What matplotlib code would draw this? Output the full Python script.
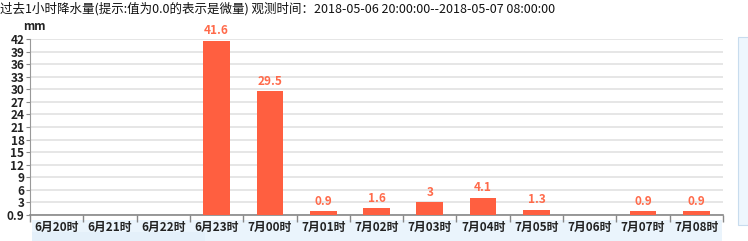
import matplotlib
matplotlib.use('Agg')
import matplotlib.pyplot as plt
import matplotlib.patches as patches
import numpy as np

plt.rcParams['font.family'] = ['Noto Sans CJK SC', 'DejaVu Sans']

hours = ['6月20时', '6月21时', '6月22时', '6月23时', '7月00时', '7月01时', '7月02时',
         '7月03时', '7月04时', '7月05时', '7月06时', '7月07时', '7月08时']
rain = [np.nan, np.nan, np.nan, 41.6, 29.5, 0.9, 1.6, 3, 4.1, 1.3, np.nan, 0.9, 0.9]
yticks = [0, 3, 6, 9, 12, 15, 18, 21, 24, 27, 30, 33, 36, 39, 42]
ylabels = ['0.9'] + [str(v) for v in yticks[1:]]
title = '过去1小时降水量(提示:值为0.0的表示是微量) 观测时间：2018-05-06 20:00:00--2018-05-07 08:00:00'

bar_color = '#ff5f40'
label_color = '#ff6a4a'

fig = plt.figure(figsize=(7.48, 2.41), dpi=100)
ax = fig.add_axes([30/748, 1-215/241, 693/748, 176/241])

x = np.arange(len(hours))
ax.bar(x, rain, width=0.5, color=bar_color, zorder=3)
for xi, v in zip(x, rain):
    if np.isnan(v):
        continue
    txt = '%g' % v
    ax.text(xi, v + 0.8, txt, ha='center', va='bottom', fontsize=8.5,
            color=label_color, fontweight='bold', zorder=4)

ax.set_xlim(-0.5, len(hours) - 0.5)
ax.set_ylim(0, 42)
ax.set_yticks(yticks)
ax.set_yticklabels(ylabels, fontsize=8.5, fontweight='bold', color='#222222')
ax.yaxis.grid(True, color='#e2e2e2', linewidth=1.2, zorder=0)
ax.set_xticks(x)
ax.set_xticklabels(hours, fontsize=8.5, fontweight='bold', color='#222222')
ax.tick_params(axis='x', length=0, pad=4)
ax.set_xticks(np.arange(len(hours) + 1) - 0.5, minor=True)
ax.tick_params(axis='x', which='minor', length=5, color='#888888', width=1)
ax.tick_params(axis='y', length=3, color='#888888', pad=1)
for s in ['top', 'right']:
    ax.spines[s].set_visible(False)
ax.spines['left'].set_color('#999999')
ax.spines['bottom'].set_color('#888888')
ax.spines['bottom'].set_linewidth(1.2)

fig.text(23/748, 1-27/241, 'mm', fontsize=8.5, fontweight='bold', va='center', color='#222222')
fig.text(0.0, 1-9/241, title, fontsize=9, va='center', color='#111111')

# navigator band under the axis
fig.patches.append(patches.Rectangle((32/748, 0), 690/748, 21/241, transform=fig.transFigure,
                                     facecolor='#eaf4fc', edgecolor='none', zorder=-1))
fig.patches.append(patches.Rectangle((32/748, 0), 173/748, 9/241, transform=fig.transFigure,
                                     facecolor='#e4f0fa', edgecolor='none', zorder=-1))
# scrollbar on the right
fig.patches.append(patches.Rectangle((738/748, 16/241), 12/748, 188/241, transform=fig.transFigure,
                                     facecolor='#eef6fd', edgecolor='#c8dcee', linewidth=0.8, zorder=-1))

fig.savefig('out.png', dpi=100)
